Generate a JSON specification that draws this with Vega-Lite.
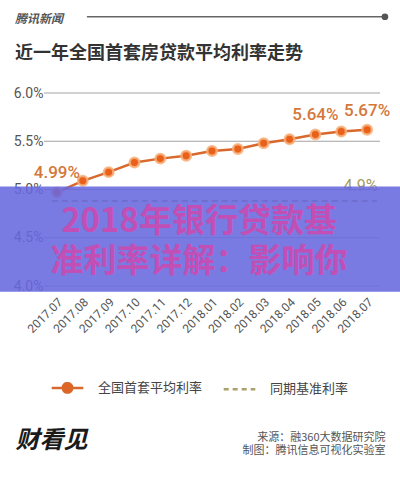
{
  "$schema": "https://vega.github.io/schema/vega-lite/v6.json",
  "width": 400,
  "height": 193,
  "autosize": {"type": "none"},
  "padding": {"left": 0, "top": 93, "right": 0, "bottom": 194},
  "background": "#ffffff",
  "config": {"view": {"stroke": null}, "font": "Noto Sans CJK SC"},
  "title": {
    "text": "腾讯新闻",
    "subtitle": "近一年全国首套房贷款平均利率走势",
    "anchor": "start",
    "frame": "group",
    "orient": "top",
    "offset": -51,
    "dx": 15,
    "font": "Noto Sans CJK SC",
    "fontSize": 12,
    "fontWeight": "bold",
    "fontStyle": "italic",
    "color": "#555555",
    "subtitleFont": "Noto Sans CJK SC",
    "subtitleFontSize": 18,
    "subtitleFontWeight": "bold",
    "subtitleColor": "#333333",
    "subtitlePadding": 19
  },
  "datasets": {
    "rates": [
      {"month": "2017.07", "rate": 4.97, "label": "4.99%"},
      {"month": "2017.08", "rate": 5.09, "label": ""},
      {"month": "2017.09", "rate": 5.18, "label": ""},
      {"month": "2017.10", "rate": 5.28, "label": ""},
      {"month": "2017.11", "rate": 5.32, "label": ""},
      {"month": "2017.12", "rate": 5.35, "label": ""},
      {"month": "2018.01", "rate": 5.40, "label": ""},
      {"month": "2018.02", "rate": 5.42, "label": ""},
      {"month": "2018.03", "rate": 5.48, "label": ""},
      {"month": "2018.04", "rate": 5.52, "label": ""},
      {"month": "2018.05", "rate": 5.57, "label": "5.64%"},
      {"month": "2018.06", "rate": 5.60, "label": ""},
      {"month": "2018.07", "rate": 5.62, "label": "5.67%"}
    ],
    "grid": [
      {"tick": 4.0, "from": "2017.07", "to": "2018.07"},
      {"tick": 4.5, "from": "2017.07", "to": "2018.07"},
      {"tick": 5.0, "from": "2017.07", "to": "2018.07"},
      {"tick": 5.5, "from": "2017.07", "to": "2018.07"},
      {"tick": 6.0, "from": "2017.07", "to": "2018.07"}
    ],
    "baseline": [{"from": "2017.07", "to": "2018.07", "rate": 4.88, "text": "4.9%"}],
    "header": [{"from": "2017.08", "to": "2018.07", "level": 6.79}],
    "banner": [{"top": 5.03, "bottom": 3.94}],
    "caption": [{"caption": "2018年银行贷款基\n准利率详解：影响你", "at": "2018.01", "level": 4.663}]
  },
  "layer": [
    {
      "data": {"name": "grid"},
      "mark": {"type": "rule", "color": "#a3a3a3", "strokeWidth": 1},
      "encoding": {
        "x": {"field": "from", "type": "nominal", "bandPosition": 0,
          "scale": {"type": "band", "domain": ["2017.07","2017.08","2017.09","2017.10","2017.11","2017.12","2018.01","2018.02","2018.03","2018.04","2018.05","2018.06","2018.07"], "range": [44, 380], "paddingInner": 0, "paddingOuter": 0},
          "axis": {
            "title": ["来源：融360大数据研究院", "制图：腾讯信息可视化实验室"],
            "titleFont": "Noto Sans CJK SC",
            "titleFontSize": 11,
            "titleFontWeight": "normal",
            "titleColor": "#555555",
            "titleAnchor": "end",
            "titleAlign": "right",
            "titleBaseline": "top",
            "titleX": 385,
            "titleY": 145,
            "titleLineHeight": 13,
            "labelAngle": -45,
            "labelFont": "Roboto",
            "labelFontSize": 12,
            "labelColor": "#555555",
            "labelPadding": 10,
            "domain": false,
            "ticks": false,
            "grid": false
          }
        },
        "x2": {"field": "to", "bandPosition": 1},
        "y": {"field": "tick", "type": "quantitative",
          "scale": {"domain": [4, 6], "nice": false, "zero": false},
          "axis": {
            "values": [4, 4.5, 5, 5.5, 6],
            "labelExpr": "format(datum.value, '.1f') + '%'",
            "offset": -44,
            "domain": false,
            "ticks": false,
            "grid": false,
            "labelFont": "Roboto",
            "labelFontSize": 14,
            "labelColor": "#555555",
            "labelPadding": 1,
            "title": "财看见",
            "titleAngle": 0,
            "titleX": -29,
            "titleY": 347,
            "titleAlign": "left",
            "titleBaseline": "middle",
            "titleFont": "Noto Sans CJK SC",
            "titleFontSize": 24,
            "titleFontWeight": "bold",
            "titleFontStyle": "italic",
            "titleColor": "#1a1a1a"
          }
        }
      }
    },
    {
      "data": {"name": "header"},
      "mark": {"type": "rule", "color": "#666666", "strokeWidth": 1.5},
      "encoding": {
        "x": {"field": "from", "type": "nominal", "bandPosition": 0.66},
        "x2": {"field": "to", "bandPosition": 1.19},
        "y": {"field": "level", "type": "quantitative"}
      }
    },
    {
      "data": {"name": "header"},
      "mark": {"type": "circle", "color": "#555555", "opacity": 1, "size": 45},
      "encoding": {
        "x": {"field": "to", "type": "nominal", "bandPosition": 1.19},
        "y": {"field": "level", "type": "quantitative"}
      }
    },
    {
      "data": {"name": "baseline"},
      "mark": {"type": "rule", "strokeWidth": 2, "strokeDash": [6, 4]},
      "encoding": {
        "x": {"field": "from", "type": "nominal", "bandPosition": 0.3},
        "x2": {"field": "to", "bandPosition": 0.88},
        "y": {"field": "rate", "type": "quantitative"},
        "color": {"datum": "同期基准利率", "type": "nominal"}
      }
    },
    {
      "data": {"name": "baseline"},
      "mark": {"type": "text", "align": "right", "baseline": "middle", "dy": -15, "font": "Roboto", "fontSize": 16, "color": "#a39b60"},
      "encoding": {
        "x": {"field": "to", "type": "nominal", "bandPosition": 0.9},
        "y": {"field": "rate", "type": "quantitative"},
        "text": {"field": "text"}
      }
    },
    {
      "data": {"name": "rates"},
      "mark": {"type": "line", "strokeWidth": 2.5},
      "encoding": {
        "x": {"field": "month", "type": "nominal"},
        "y": {"field": "rate", "type": "quantitative"},
        "color": {"datum": "全国首套平均利率", "type": "nominal",
          "scale": {"domain": ["全国首套平均利率", "同期基准利率"], "range": ["#d8682c", "#aaa06c"]},
          "legend": {
            "title": null,
            "orient": "none",
            "legendX": 50,
            "legendY": 277,
            "direction": "horizontal",
            "padding": 0,
            "symbolType": "stroke",
            "symbolSize": 1000,
            "symbolStrokeWidth": 2.5,
            "labelFont": "Noto Sans CJK SC",
            "labelFontSize": 13,
            "labelColor": "#444444",
            "labelOffset": 13,
            "columnPadding": 15,
            "encode": {
              "symbols": {
                "update": {
                  "shape": {"signal": "datum.value === '全国首套平均利率' ? 'M-1,0H1M-0.3,0A0.3,0.3 0 1,1 0.3,0A0.3,0.3 0 1,1 -0.3,0Z' : 'stroke'"},
                  "fill": {"signal": "datum.value === '全国首套平均利率' ? '#e8601a' : 'transparent'"},
                  "strokeDash": {"signal": "datum.value === '同期基准利率' ? [5, 4] : [1, 0]"}
                }
              }
            }
          }
        }
      }
    },
    {
      "data": {"name": "rates"},
      "mark": {"type": "circle", "size": 90, "fill": "#e8601a", "fillOpacity": 1, "stroke": "#f7b07a", "strokeWidth": 2.5, "strokeOpacity": 0.85},
      "encoding": {
        "x": {"field": "month", "type": "nominal"},
        "y": {"field": "rate", "type": "quantitative"}
      }
    },
    {
      "data": {"name": "rates"},
      "transform": [{"filter": "datum.label != ''"}],
      "mark": {"type": "text", "baseline": "middle", "dy": -19, "font": "Roboto", "fontSize": 17, "fontWeight": 500, "color": "#d4773a"},
      "encoding": {
        "x": {"field": "month", "type": "nominal"},
        "y": {"field": "rate", "type": "quantitative"},
        "text": {"field": "label"}
      }
    },
    {
      "data": {"name": "banner"},
      "mark": {"type": "rect", "fill": "#6868df", "opacity": 0.88},
      "encoding": {
        "y": {"field": "top", "type": "quantitative"},
        "y2": {"field": "bottom"}
      }
    },
    {
      "data": {"name": "caption"},
      "mark": {"type": "text", "align": "center", "baseline": "middle", "lineBreak": "\n", "lineHeight": 40, "font": "Noto Sans CJK SC", "fontSize": 33, "fontWeight": "bold", "color": "#c24fb5"},
      "encoding": {
        "x": {"field": "at", "type": "nominal", "bandPosition": 0},
        "y": {"field": "level", "type": "quantitative"},
        "text": {"field": "caption"}
      }
    }
  ]
}
